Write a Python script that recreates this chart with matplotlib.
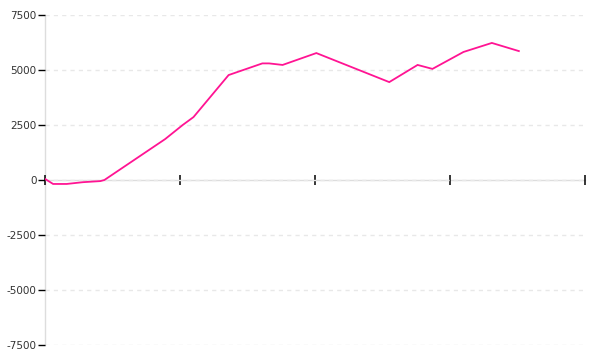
import numpy as np
import matplotlib
matplotlib.use("Agg")
import matplotlib.pyplot as plt

# values
days = [0, 0.6, 1.6, 2.8, 4.1, 4.4, 8.9, 10.2, 11.0, 13.6, 16.1, 16.6,
        17.6, 20.1, 25.5, 27.6, 28.7, 31.0, 33.1, 35.1]
balance = [50, -180, -180, -100, -50, 0, 1860, 2500, 2860, 4770, 5300, 5300,
           5230, 5770, 4450, 5230, 5050, 5820, 6230, 5860]
x_ticks = [0, 10, 20, 30, 40]
y_ticks = [-7500, -5000, -2500, 0, 2500, 5000, 7500]

plt.rcParams['axes.unicode_minus'] = False
plt.rcParams['font.family'] = 'DejaVu Sans'

fig = plt.figure(figsize=(6, 3.6), dpi=100)
ax = fig.add_axes([45/600, 15/360, 540/600, 330/360])

ax.plot(days, balance, color='#ff1493', lw=1.3, solid_joinstyle='miter')

ax.set_xlim(0, 40)
ax.set_ylim(-7500, 7500)
ax.set_xticks(x_ticks)
ax.set_xticklabels([])
ax.set_yticks(y_ticks)

ax.spines['top'].set_visible(False)
ax.spines['right'].set_visible(False)
ax.spines['bottom'].set_position(('data', 0))
for side in ['bottom', 'left']:
    ax.spines[side].set_color('#dddddd')
    ax.spines[side].set_linewidth(1)
    ax.spines[side].set_zorder(0.4)

ax.tick_params(axis='x', direction='inout', length=6.5, width=1.1, color='black')
ax.tick_params(axis='y', direction='out', length=5, width=1, color='black',
               labelsize=7.5, labelcolor='#333333', pad=1)

ax.yaxis.grid(True, color='#e8e8e8', linestyle=(0, (3, 3)), lw=1)
ax.set_axisbelow(True)

fig.savefig('out.png', dpi=100)
